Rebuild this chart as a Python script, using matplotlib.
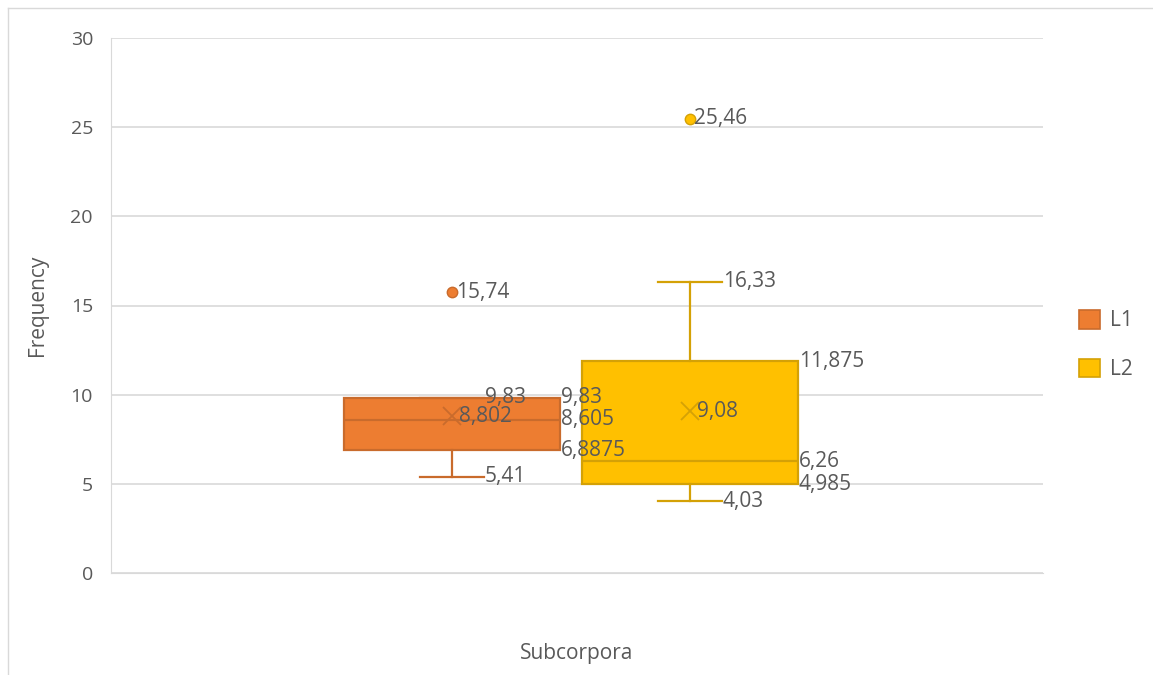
import matplotlib.pyplot as plt
from matplotlib.patches import Patch
from matplotlib.lines import Line2D

plt.rcParams['font.family'] = ['Open Sans', 'DejaVu Sans']

# box statistics (Excel box & whisker)
grupos = ['L1', 'L2']
whislo = [5.41, 4.03]
q1 = [6.8875, 4.985]
mediana = [8.605, 6.26]
q3 = [9.83, 11.875]
whishi = [9.83, 16.33]
media = [8.802, 9.08]
outliers = [[15.74], [25.46]]

cor = ['#ED7D31', '#FFC000']
borda = ['#C96B2C', '#D4A106']
texto = '#595959'

pos = [0.366, 0.621]
larg = 0.232
cap = 0.069

fig = plt.figure(figsize=(11.53, 6.75), dpi=100)
ax = fig.add_axes([111 / 1153, 102 / 675, 932 / 1153, 535 / 675])

stats = []
for i in range(2):
    stats.append(dict(whislo=whislo[i], q1=q1[i], med=mediana[i], q3=q3[i],
                      whishi=whishi[i], mean=media[i], fliers=outliers[i]))

for i in range(2):
    ax.bxp([stats[i]], positions=[pos[i]], widths=larg, capwidths=cap,
           patch_artist=True, showmeans=True, manage_ticks=False,
           boxprops=dict(facecolor=cor[i], edgecolor=borda[i], lw=1.6),
           medianprops=dict(color=borda[i], lw=1.6),
           whiskerprops=dict(color=borda[i], lw=1.6),
           capprops=dict(color=borda[i], lw=1.6),
           meanprops=dict(marker='x', markeredgecolor=borda[i], markersize=13,
                          markeredgewidth=1.3),
           flierprops=dict(marker='o', markerfacecolor=cor[i],
                           markeredgecolor=borda[i], markersize=7.5))

fs = 15
def rotulo(x, y, dx=0.5):
    ax.annotate(f'{y:g}'.replace('.', ','), (x, y), xytext=(dx, 0),
                textcoords='offset points', ha='left', va='center',
                fontsize=fs, color=texto)

for i in range(2):
    direita = pos[i] + larg / 2
    capdir = pos[i] + cap / 2
    rotulo(capdir, whishi[i])
    rotulo(direita, q3[i])
    rotulo(direita, mediana[i])
    rotulo(direita, q1[i])
    rotulo(capdir, whislo[i])
    rotulo(pos[i], media[i], dx=5)
    for o in outliers[i]:
        rotulo(pos[i], o, dx=3)

ax.set_xlim(0, 1)
ax.set_ylim(0, 30)
ax.set_yticks(range(0, 31, 5))
ax.set_xticks([])
ax.grid(axis='y', color='#D9D9D9', lw=1.2)
ax.set_axisbelow(True)
for lado in ['top', 'right']:
    ax.spines[lado].set_visible(False)
ax.spines['left'].set_color('#D9D9D9')
ax.spines['bottom'].set_color('#D9D9D9')
ax.tick_params(axis='y', length=0, labelsize=14, labelcolor=texto, pad=13)

fig.text(38 / 1153, 1 - 305 / 675, 'Frequency', rotation=90, ha='center',
         va='center', fontsize=15, color=texto)
fig.text(577 / 1153, 1 - 653 / 675, 'Subcorpora', ha='center', va='center',
         fontsize=15, color=texto)

handles = [Patch(facecolor=cor[i], edgecolor=borda[i], lw=1.2) for i in range(2)]
fig.legend(handles, grupos, loc='center left',
           bbox_to_anchor=(1060 / 1153, 1 - 345 / 675), frameon=False,
           fontsize=fs, handlelength=1.0, handleheight=1.0,
           handletextpad=0.5, labelspacing=1.3, labelcolor=texto)

# moldura do gráfico
fig.add_artist(Line2D([8 / 1153, 1], [1 - 8 / 675] * 2, color='#D9D9D9', lw=1))
fig.add_artist(Line2D([8 / 1153] * 2, [0, 1 - 8 / 675], color='#D9D9D9', lw=1))

fig.savefig('out.png', dpi=100)
